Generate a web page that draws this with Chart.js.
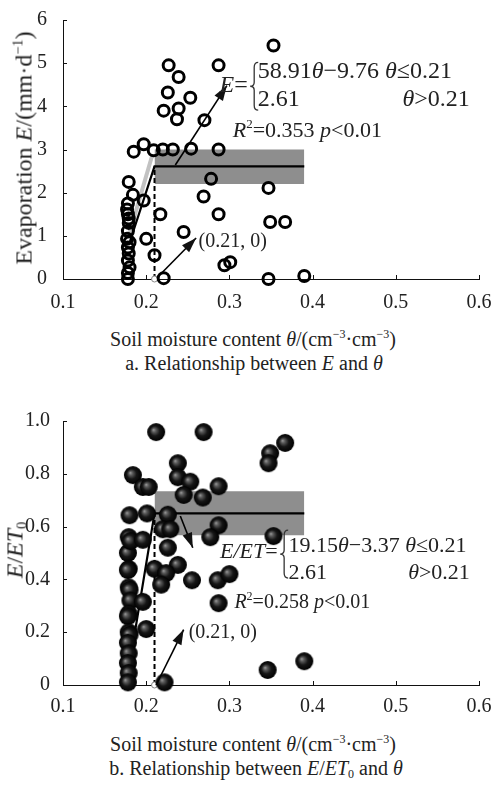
<!DOCTYPE html>
<html>
<head>
<meta charset="utf-8">
<script src="https://cdn.jsdelivr.net/npm/chart.js@4.4.0/dist/chart.umd.min.js"></script>
<style>
  body { margin: 0; width: 496px; height: 787px; background: #fff; position: relative; overflow: hidden;
         font-family: "Liberation Serif", serif; color: #222; }
  canvas { position: absolute; left: 0; }
  .lbl { position: absolute; white-space: nowrap; font-size: 20px; transform: translate(-50%, -50%); }
  .rot { font-size: 24px; transform: translate(-50%, -50%) rotate(-90deg); }
  sup { font-size: 0.6em; vertical-align: 0.6em; line-height: 0; }
  sub { font-size: 0.6em; vertical-align: -0.3em; line-height: 0; }
</style>
</head>
<body>
<canvas id="chartA" style="top:0" width="496" height="312"></canvas>
<div class="lbl rot" style="left:24px;top:148px">Evaporation <i>E</i>/(mm·d<sup>−1</sup>)</div>
<div class="lbl" style="left:253px;top:339px">Soil moisture content <i>θ</i>/(cm<sup>−3</sup>·cm<sup>−3</sup>)</div>
<div class="lbl" style="left:254px;top:363px">a. Relationship between <i>E</i> and <i>θ</i></div>

<canvas id="chartB" style="top:400px" width="496" height="320"></canvas>
<div class="lbl rot" style="left:15px;top:550px"><i>E</i>/<i>ET</i><sub>0</sub></div>
<div class="lbl" style="left:253px;top:744px">Soil moisture content <i>θ</i>/(cm<sup>−3</sup>·cm<sup>−3</sup>)</div>
<div class="lbl" style="left:256px;top:768px">b. Relationship between <i>E</i>/<i>ET</i><sub>0</sub> and <i>θ</i></div>

<script>
// ---- panel a: evaporation vs soil moisture ----
const thetaA = [0.179, 0.184, 0.178, 0.177, 0.178, 0.179, 0.178, 0.177, 0.178, 0.179, 0.178, 0.180, 0.178, 0.178, 0.180, 0.179,
                0.197, 0.200, 0.210, 0.217, 0.245, 0.221, 0.294, 0.301, 0.269, 0.278, 0.287, 0.347, 0.349, 0.367, 0.347, 0.390,
                0.227, 0.239, 0.287, 0.226, 0.253, 0.221, 0.239, 0.237, 0.270, 0.353,
                0.185, 0.197, 0.209, 0.220, 0.232, 0.254, 0.287];
const evapA  = [2.25, 1.95, 1.75, 1.61, 1.50, 1.30, 1.11, 0.93, 0.73, 0.59, 0.43, 0.27, 0.14, 0.00, 0.85, 1.40,
                1.82, 0.93, 0.55, 1.50, 1.09, 0.02, 0.32, 0.39, 1.91, 2.32, 1.50, 2.11, 1.32, 1.32, 0.00, 0.07,
                4.95, 4.68, 4.95, 4.32, 4.20, 3.90, 3.95, 3.70, 3.68, 5.41,
                2.95, 3.12, 2.98, 3.00, 3.00, 3.02, 3.00];
const fitThetaA = [0.18, 0.21, 0.39];
const fitA = [0.84, 2.61, 2.61];
const bandThetaA = [0.21, 0.39];
const bandHiA = [3.0, 3.0];
const bandLoA = 2.2;
const slopeThetaA = [0.179, 0.207];
const slopeA = [1.0, 2.85];
const dashThetaA = [0.21, 0.21];
const dashA = [0, 2.61];
const arrowUpThetaA = [0.235, 0.297];
const arrowUpA = [2.64, 4.48];
const arrowLowThetaA = [0.213, 0.26];
const arrowLowA = [0.03, 0.95];
const xTicks = [0.1, 0.2, 0.3, 0.4, 0.5, 0.6];
const yTicksA = [0, 1, 2, 3, 4, 5, 6];

// ---- panel b: E/ET0 vs soil moisture ----
const thetaB = [0.180, 0.179, 0.178, 0.179, 0.178, 0.179, 0.180, 0.181, 0.179, 0.178, 0.179, 0.180, 0.178, 0.179, 0.178, 0.179, 0.178, 0.181,
                0.184, 0.196, 0.203, 0.212, 0.269, 0.238, 0.238, 0.253, 0.245, 0.268, 0.287, 0.201, 0.226, 0.220, 0.229, 0.287,
                0.277, 0.196, 0.226, 0.210, 0.238, 0.224, 0.218, 0.255, 0.286, 0.300, 0.196, 0.200, 0.222, 0.367, 0.349, 0.347,
                0.353, 0.346, 0.390, 0.287];
const ratioB = [0.643, 0.560, 0.500, 0.440, 0.435, 0.370, 0.360, 0.320, 0.270, 0.260, 0.200, 0.190, 0.160, 0.120, 0.083, 0.045, 0.010, 0.545,
                0.795, 0.750, 0.750, 0.958, 0.958, 0.840, 0.787, 0.770, 0.720, 0.710, 0.753, 0.650, 0.645, 0.590, 0.590, 0.605,
                0.560, 0.550, 0.520, 0.440, 0.455, 0.424, 0.380, 0.397, 0.397, 0.420, 0.315, 0.212, 0.010, 0.917, 0.878, 0.840,
                0.564, 0.057, 0.090, 0.310];
const fitThetaB = [0.18, 0.21, 0.39];
const fitB = [0.077, 0.65, 0.65];
const bandThetaB = [0.21, 0.39];
const bandHiB = [0.734, 0.734];
const bandLoB = 0.567;
const dashThetaB = [0.21, 0.21];
const dashB = [0, 0.65];
const arrowUpThetaB = [0.241, 0.256];
const arrowUpB = [0.64, 0.52];
const arrowLowThetaB = [0.212, 0.245];
const arrowLowB = [0.0, 0.21];
const yTicksB = [0, 0.2, 0.4, 0.6, 0.8, 1.0];

const pts = (xs, ys) => xs.map((x, i) => ({ x, y: ys[i] }));

function sphere(r) {
  const c = document.createElement('canvas');
  const s = 2 * r + 2;
  c.width = c.height = s;
  const g = c.getContext('2d');
  const grad = g.createRadialGradient(r * 0.8, r * 0.85, 0, r + 1, r + 1, r);
  grad.addColorStop(0, '#a0a0a0');
  grad.addColorStop(0.22, '#5a5a5a');
  grad.addColorStop(0.55, '#161616');
  grad.addColorStop(1, '#000');
  g.fillStyle = grad;
  g.beginPath();
  g.arc(r + 1, r + 1, r, 0, Math.PI * 2);
  g.fill();
  return c;
}

// text with mixed italic / superscript runs
function drawRuns(ctx, x, y, runs, size, align) {
  const fontFor = st => (st.includes('i') ? 'italic ' : '') + (st.includes('s') ? Math.round(size * 0.6) : size) + 'px "Liberation Serif"';
  let w = 0;
  runs.forEach(([t, st]) => { ctx.font = fontFor(st); w += ctx.measureText(t).width; });
  let cx = align === 'right' ? x - w : x;
  ctx.textAlign = 'left';
  ctx.textBaseline = 'middle';
  runs.forEach(([t, st]) => {
    ctx.font = fontFor(st);
    ctx.fillText(t, cx, st.includes('s') ? y - size * 0.3 : y);
    cx += ctx.measureText(t).width;
  });
}

function brace(ctx, x, y0, y1, w) {
  const m = (y0 + y1) / 2;
  ctx.beginPath();
  ctx.moveTo(x + w, y0);
  ctx.quadraticCurveTo(x + w / 2, y0, x + w / 2, y0 + 5);
  ctx.lineTo(x + w / 2, m - 4);
  ctx.quadraticCurveTo(x + w / 2, m, x, m);
  ctx.quadraticCurveTo(x + w / 2, m, x + w / 2, m + 4);
  ctx.lineTo(x + w / 2, y1 - 5);
  ctx.quadraticCurveTo(x + w / 2, y1, x + w, y1);
  ctx.stroke();
}

function makeDeco(texts, braces) {
  return {
    id: 'deco',
    afterDraw(chart) {
      const { ctx, chartArea: a, scales: { x, y } } = chart;
      ctx.save();
      ctx.strokeStyle = '#111';
      ctx.lineWidth = 1;
      // inward tick marks
      x.ticks.forEach(t => {
        const px = Math.round(x.getPixelForValue(t.value)) + 0.5;
        ctx.beginPath(); ctx.moveTo(px, a.bottom); ctx.lineTo(px, a.bottom - 4); ctx.stroke();
      });
      y.ticks.forEach(t => {
        const py = Math.round(y.getPixelForValue(t.value)) + 0.5;
        ctx.beginPath(); ctx.moveTo(a.left, py); ctx.lineTo(a.left + 4, py); ctx.stroke();
      });
      // arrowheads
      ctx.fillStyle = '#111';
      chart.data.datasets.forEach((ds, i) => {
        if (!ds.arrow) return;
        const p = chart.getDatasetMeta(i).data;
        const p0 = p[p.length - 2], p1 = p[p.length - 1];
        const ang = Math.atan2(p1.y - p0.y, p1.x - p0.x);
        const L = 15, W = 5;
        ctx.beginPath();
        ctx.moveTo(p1.x, p1.y);
        ctx.lineTo(p1.x - L * Math.cos(ang) + W * Math.sin(ang), p1.y - L * Math.sin(ang) - W * Math.cos(ang));
        ctx.lineTo(p1.x - L * Math.cos(ang) - W * Math.sin(ang), p1.y - L * Math.sin(ang) + W * Math.cos(ang));
        ctx.closePath();
        ctx.fill();
      });
      // formula texts
      ctx.fillStyle = '#222';
      texts.forEach(t => drawRuns(ctx, x.getPixelForValue(t.x), y.getPixelForValue(t.y), t.runs, t.size, t.align));
      ctx.strokeStyle = '#333';
      ctx.lineWidth = 1.3;
      braces.forEach(b => brace(ctx, x.getPixelForValue(b.x), y.getPixelForValue(b.y0), y.getPixelForValue(b.y1), 8));
      ctx.restore();
    }
  };
}

function build(id, cfg) {
  const tickFont = { family: 'Liberation Serif', size: 20 };
  return new Chart(document.getElementById(id), {
    type: 'scatter',
    data: { datasets: cfg.datasets },
    options: {
      responsive: false,
      animation: false,
      events: [],
      layout: { padding: { top: cfg.top, right: 17, left: 0, bottom: 0 } },
      plugins: { legend: { display: false }, tooltip: { enabled: false } },
      scales: {
        x: {
          type: 'linear', min: 0.1, max: 0.6,
          afterBuildTicks: s => { s.ticks = xTicks.map(v => ({ value: v })); },
          ticks: { font: tickFont, color: '#222', padding: cfg.xpad, maxRotation: 0, callback: v => v.toFixed(1) },
          grid: { display: false },
          border: { display: true, color: '#111', width: 1 },
          afterFit: s => { s.height = cfg.xh; }
        },
        y: {
          type: 'linear', min: cfg.yTicks[0], max: cfg.yTicks[cfg.yTicks.length - 1],
          afterBuildTicks: s => { s.ticks = cfg.yTicks.map(v => ({ value: v })); },
          ticks: { font: tickFont, color: '#222', padding: cfg.ypad, callback: cfg.yLabel },
          grid: { display: false },
          border: { display: true, color: '#111', width: 1 },
          afterFit: s => { s.width = 63; }
        }
      }
    },
    plugins: [makeDeco(cfg.texts, cfg.braces)]
  });
}

const lineDs = (data, extra) => Object.assign({ data, showLine: true, pointRadius: 0, clip: false, borderColor: '#000' }, extra);

build('chartA', {
  top: 15, xh: 33, xpad: 4, ypad: 8, yTicks: yTicksA,
  yLabel: v => String(v),
  datasets: [
    lineDs(pts(arrowUpThetaA, arrowUpA), { borderWidth: 1.6, arrow: true, order: 0 }),
    lineDs(pts(arrowLowThetaA, arrowLowA), { borderWidth: 1.6, arrow: true, order: 0 }),
    { data: pts(thetaA, evapA), pointRadius: 5.5, borderWidth: 3, borderColor: '#000',
      backgroundColor: 'rgba(0,0,0,0)', clip: false, order: 1 },
    { data: [{ x: 0.21, y: 0 }], pointRadius: 3, borderWidth: 1, borderColor: '#888', backgroundColor: '#fff', clip: false, order: 1 },
    lineDs(pts(fitThetaA, fitA), { borderWidth: 2.2, order: 2 }),
    lineDs(pts(dashThetaA, dashA), { borderWidth: 2, borderDash: [5, 3], order: 3 }),
    lineDs(pts(slopeThetaA, slopeA), { borderWidth: 4, borderColor: '#c2c2c2', order: 4 }),
    lineDs(pts(bandThetaA, bandHiA), { borderWidth: 0, borderColor: 'rgba(0,0,0,0)', backgroundColor: '#8e8e8e',
      fill: { value: bandLoA }, order: 5 })
  ],
  texts: [
    { x: 0.322, y: 4.48, size: 24, align: 'right', runs: [['E', 'i'], ['=', '']] },
    { x: 0.334, y: 4.80, size: 24, runs: [['58.91', ''], ['θ', 'i'], ['−9.76 ', ''], ['θ', 'i'], ['≤0.21', '']] },
    { x: 0.334, y: 4.16, size: 24, runs: [['2.61', '']] },
    { x: 0.589, y: 4.16, size: 24, align: 'right', runs: [['θ', 'i'], ['>0.21', '']] },
    { x: 0.304, y: 3.43, size: 22, runs: [['R', 'i'], ['2', 's'], ['=0.353 ', ''], ['p', 'i'], ['<0.01', '']] },
    { x: 0.263, y: 0.86, size: 20, runs: [['(0.21, 0)', '']] }
  ],
  braces: [{ x: 0.325, y0: 5.02, y1: 3.91 }]
});

build('chartB', {
  top: 21, xh: 35, xpad: 2, ypad: 5, yTicks: yTicksB,
  yLabel: v => (v === 0 ? '0' : v.toFixed(1)),
  datasets: [
    lineDs(pts(arrowUpThetaB, arrowUpB), { borderWidth: 1.6, arrow: true, order: 0 }),
    lineDs(pts(arrowLowThetaB, arrowLowB), { borderWidth: 1.6, arrow: true, order: 0 }),
    { data: pts(thetaB, ratioB), pointStyle: sphere(9), pointRadius: 9, clip: false, order: 1 },
    { data: [{ x: 0.21, y: 0 }], pointRadius: 3, borderWidth: 1, borderColor: '#888', backgroundColor: '#fff', clip: false, order: 2 },
    lineDs(pts(fitThetaB, fitB), { borderWidth: 2.2, order: 2 }),
    lineDs(pts(dashThetaB, dashB), { borderWidth: 2, borderDash: [5, 3], order: 3 }),
    lineDs(pts(bandThetaB, bandHiB), { borderWidth: 0, borderColor: 'rgba(0,0,0,0)', backgroundColor: '#8e8e8e',
      fill: { value: bandLoB }, order: 5 })
  ],
  texts: [
    { x: 0.358, y: 0.504, size: 22, align: 'right', runs: [['E', 'i'], ['/', 'i'], ['ET', 'i'], ['=', '']] },
    { x: 0.371, y: 0.527, size: 22, runs: [['19.15', ''], ['θ', 'i'], ['−3.37 ', ''], ['θ', 'i'], ['≤0.21', '']] },
    { x: 0.371, y: 0.424, size: 22, runs: [['2.61', '']] },
    { x: 0.589, y: 0.424, size: 22, align: 'right', runs: [['θ', 'i'], ['>0.21', '']] },
    { x: 0.306, y: 0.311, size: 20, runs: [['R', 'i'], ['2', 's'], ['=0.258 ', ''], ['p', 'i'], ['<0.01', '']] },
    { x: 0.251, y: 0.197, size: 20, runs: [['(0.21, 0)', '']] }
  ],
  braces: [{ x: 0.361, y0: 0.587, y1: 0.405 }]
});
</script>
</body>
</html>
